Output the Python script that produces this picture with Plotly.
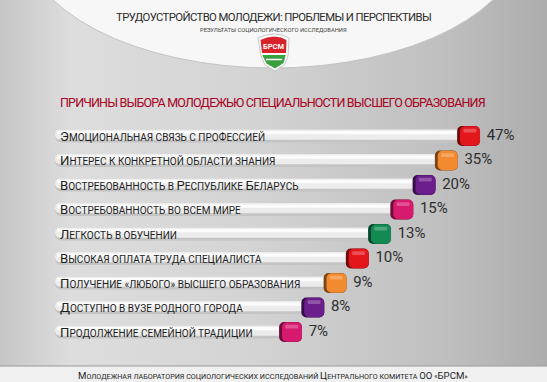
import numpy as np
import plotly.graph_objects as go

# ---------------- data ----------------
categories = [
    "Эмоциональная связь с профессией",
    "Интерес к конкретной области знания",
    "Востребованность в Республике Беларусь",
    "Востребованность во всем мире",
    "Легкость в обучении",
    "Высокая оплата труда специалиста",
    "Получение «любого» высшего образования",
    "Доступно в вузе родного города",
    "Продолжение семейной традиции",
]
values = [47, 35, 20, 15, 13, 10, 9, 8, 7]
cap_colors = ["#e3161b", "#f28a30", "#6c1d8c", "#d81a6f", "#128a52",
              "#e3161b", "#f28a30", "#6c1d8c", "#d81a6f"]
title_text = "ТРУДОУСТРОЙСТВО МОЛОДЕЖИ: ПРОБЛЕМЫ И ПЕРСПЕКТИВЫ"
subtitle_text = "РЕЗУЛЬТАТЫ СОЦИОЛОГИЧЕСКОГО ИССЛЕДОВАНИЯ"
heading_text = "ПРИЧИНЫ ВЫБОРА МОЛОДЕЖЬЮ СПЕЦИАЛЬНОСТИ ВЫСШЕГО ОБРАЗОВАНИЯ"
footer_text = "Молодежная лаборатория социологических исследований Центрального комитета ОО «БРСМ»"

W, H = 547, 382
FONT = "Roboto"

# display length: infographic uses a rank-stepped scale
vals = np.array(values)
rank = np.argsort(np.argsort(vals))          # 0 = smallest
disp = 10 + rank                              # stepped bar length
ypos = np.arange(len(categories))

XR = [-3.573, 21.01]
YR = [10.041, -5.551]


def smallcaps(s, big, small):
    out = []
    for ch in s:
        if ch.isupper():
            out.append(f'<span style="font-size:{big}px">{ch}</span>')
        else:
            out.append(ch.upper())
    return "".join(out)


def tight(s, ls):
    return f'<span style="letter-spacing:{ls}px">{s}</span>'


def lighten(hexc, f):
    hexc = hexc.lstrip("#")
    r, g, b = (int(hexc[i:i + 2], 16) for i in (0, 2, 4))
    r = int(r + (255 - r) * f); g = int(g + (255 - g) * f); b = int(b + (255 - b) * f)
    return f"rgb({r},{g},{b})"


def darken(hexc, f):
    hexc = hexc.lstrip("#")
    r, g, b = (int(hexc[i:i + 2], 16) for i in (0, 2, 4))
    return f"rgb({int(r*(1-f))},{int(g*(1-f))},{int(b*(1-f))})"


fig = go.Figure()

# background gradient on base axes (x, y) in pixel units
fig.add_trace(go.Scatter(
    x=[0, W, W, 0, 0], y=[0, 0, H, H, 0], xaxis="x", yaxis="y",
    mode="lines", line=dict(width=0), fill="toself", hoverinfo="skip",
    fillgradient=dict(type="horizontal",
                      colorscale=[[0, "#c6c6c6"], [0.13, "#dddddd"], [0.45, "#d4d4d4"],
                                  [0.8, "#c0c0c0"], [1, "#adadad"]]),
    showlegend=False))

BASE = -1.1
bar_kw = dict(orientation="h", hoverinfo="skip", showlegend=False, xaxis="x2", yaxis="y2")
# gray cylinder body
fig.add_trace(go.Bar(
    y=ypos, x=disp - 0.5 - BASE, base=BASE, width=0.54, offset=-0.27,
    marker=dict(color="#c4c4c4", line=dict(width=0), cornerradius=6), **bar_kw))
fig.add_trace(go.Bar(
    y=ypos, x=disp - 0.5 - BASE, base=BASE, width=0.42, offset=-0.27,
    marker=dict(color="#ececec", line=dict(width=0), cornerradius=5), **bar_kw))
fig.add_trace(go.Bar(
    y=ypos, x=disp - 0.5 - BASE - 0.2, base=BASE + 0.1, width=0.13, offset=-0.2,
    marker=dict(color="#fcfcfc", line=dict(width=0), cornerradius=2), **bar_kw))

# colored caps
CAPW = 1.03
fig.add_trace(go.Bar(
    y=ypos, x=[CAPW] * len(values), base=disp - CAPW, width=0.82, offset=-0.41,
    marker=dict(color=[darken(c, 0.5) for c in cap_colors], line=dict(width=0), cornerradius=5),
    **bar_kw))
fig.add_trace(go.Bar(
    y=ypos, x=[CAPW - 0.13] * len(values), base=disp - CAPW + 0.13, width=0.8, offset=-0.4,
    marker=dict(color=cap_colors, line=dict(width=0), cornerradius=5), **bar_kw))
fig.add_trace(go.Bar(
    y=ypos, x=[CAPW - 0.45] * len(values), base=disp - CAPW + 0.28, width=0.16, offset=-0.3,
    marker=dict(color=[lighten(c, 0.25) for c in cap_colors], line=dict(width=0), cornerradius=2),
    **bar_kw))

# percentages
fig.add_trace(go.Scatter(
    y=ypos, x=disp + 0.3, mode="text", text=[f"{v}%" for v in values],
    textposition="middle right", textfont=dict(family=FONT, size=15, color="#2e2e2e"),
    hoverinfo="skip", showlegend=False, xaxis="x2", yaxis="y2"))


def px(x):
    return x / W


def py(y):
    return 1 - y / H


shapes = []
# white ellipse top
shapes.append(dict(type="circle", xref="paper", yref="paper",
                   x0=px(23), x1=px(523), y0=py(-192), y1=py(68),
                   fillcolor="#f7f7f7", line=dict(color="#c4c4c4", width=1), layer="above"))
# footer strip
shapes.append(dict(type="rect", xref="paper", yref="paper",
                   x0=0, x1=1, y0=0, y1=py(366),
                   fillcolor="#f0f0f0", line=dict(width=0), layer="above"))
shapes.append(dict(type="line", xref="paper", yref="paper",
                   x0=0, x1=1, y0=py(366), y1=py(366),
                   line=dict(color="#9a9a9a", width=1), layer="above"))


def path(pts, close=True):
    s = "M " + " L ".join(f"{px(a):.5f},{py(b):.5f}" for a, b in pts)
    return s + (" Z" if close else "")


# logo (pennant)
outer = [(258, 38), (266, 35), (274, 34), (282, 35), (289, 38), (288, 56), (285, 64), (275, 71),
         (265, 65), (261, 56)]
red = [(260.5, 40), (267, 37.5), (274, 36.5), (281, 37.5), (286.5, 40), (286, 53), (262, 53)]
green = [(262.3, 55), (285.8, 55), (283.5, 63), (275, 68.5), (266.5, 63.5)]
shapes.append(dict(type="path", xref="paper", yref="paper", path=path(outer),
                   fillcolor="#ffffff", line=dict(color="#b9b9b9", width=0.8), layer="above"))
shapes.append(dict(type="path", xref="paper", yref="paper", path=path(red),
                   fillcolor="#d8232a", line=dict(width=0), layer="above"))
shapes.append(dict(type="path", xref="paper", yref="paper", path=path(green),
                   fillcolor="#3aa040", line=dict(width=0), layer="above"))
shapes.append(dict(type="line", xref="paper", yref="paper",
                   x0=px(266), x1=px(282), y0=py(59.5), y1=py(59.5),
                   line=dict(color="#ffffff", width=1.5), layer="above"))

annotations = []
annotations.append(dict(xref="paper", yref="paper", x=px(273), y=py(17),
                        text=tight(title_text, -0.6),
                        showarrow=False, xanchor="center", yanchor="middle",
                        font=dict(family=FONT, size=11.3, color="#2a2a2a")))
annotations.append(dict(xref="paper", yref="paper", x=px(273), y=py(30), text=subtitle_text,
                        showarrow=False, xanchor="center", yanchor="middle",
                        font=dict(family=FONT, size=5.8, color="#444444")))
annotations.append(dict(xref="paper", yref="paper", x=px(273.5), y=py(46.5), text="<b>БРСМ</b>",
                        showarrow=False, xanchor="center", yanchor="middle",
                        font=dict(family=FONT, size=7.5, color="#ffffff")))
annotations.append(dict(xref="paper", yref="paper", x=px(58), y=py(102),
                        text=tight(heading_text, -0.8),
                        showarrow=False, xanchor="left", yanchor="middle",
                        font=dict(family=FONT, size=12.5, color="#a8001e")))
for i, c in enumerate(categories):
    annotations.append(dict(xref="paper", yref="y2", x=px(58), y=i,
                            text=smallcaps(c, 13.2, 10), showarrow=False,
                            xanchor="left", yanchor="middle",
                            font=dict(family=FONT, size=10, color="#1e1e1e")))
annotations.append(dict(xref="paper", yref="paper", x=px(273), y=py(375.5),
                        text=smallcaps(footer_text, 9.6, 7.2), showarrow=False,
                        xanchor="center", yanchor="middle",
                        font=dict(family=FONT, size=7.2, color="#1e1e1e")))

fig.update_layout(
    width=W, height=H, margin=dict(l=0, r=0, t=0, b=0),
    paper_bgcolor="#d4d4d4", plot_bgcolor="#d4d4d4",
    barmode="overlay",
    xaxis=dict(range=[0, W], visible=False, fixedrange=True),
    yaxis=dict(range=[H, 0], visible=False, fixedrange=True),
    xaxis2=dict(range=XR, visible=False, fixedrange=True, overlaying="x"),
    yaxis2=dict(range=YR, visible=False, fixedrange=True, overlaying="y"),
    shapes=shapes, annotations=annotations,
)

fig.write_html("out.html", config={"displayModeBar": False},
               post_script="document.body.style.margin='0';document.body.style.padding='0';")
